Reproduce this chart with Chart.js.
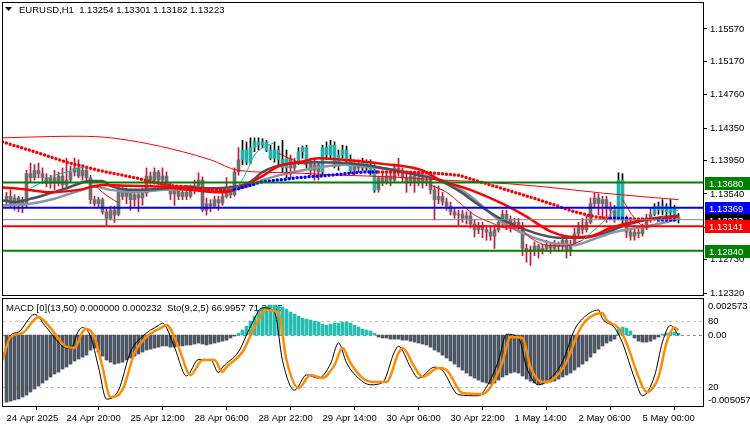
<!DOCTYPE html>
<html>
<head>
<meta charset="utf-8">
<script src="https://cdn.jsdelivr.net/npm/chart.js@4.4.1/dist/chart.umd.min.js"></script>
<style>
html, body { margin: 0; padding: 0; background: #fff; }
#wrap { position: relative; width: 750px; height: 430px; }
#top { position: absolute; left: 0; top: 0; width: 750px; height: 297px; }
#bot { position: absolute; left: 0; top: 297px; width: 750px; height: 133px; }
</style>
</head>
<body>
<div id="wrap">
  <canvas id="top" width="750" height="297"></canvas>
  <canvas id="bot" width="750" height="133"></canvas>
</div>
<script>
// EURUSD H1 candles, bar 0 = 24 Apr 05:00
var open = [
1.1347,1.1351,1.1342,1.1349,1.1340,1.1343,1.1379,1.1374,1.1383,1.1379,
1.1374,1.1367,1.1374,1.1367,1.1376,1.1365,1.1371,1.1381,1.1386,1.1376,
1.1383,1.1374,1.1347,1.1342,1.1347,1.1332,1.1324,1.1334,1.1329,1.1361,
1.1351,1.1356,1.1347,1.1353,1.1349,1.1355,1.1376,1.1371,1.1381,1.1371,
1.1376,1.1364,1.1354,1.1359,1.1351,1.1356,1.1351,1.1359,1.1364,1.1371,
1.1334,1.1342,1.1339,1.1347,1.1343,1.1351,1.1359,1.1353,1.1381,1.1396,
1.1408,1.1393,1.1411,1.1418,1.1414,1.1418,1.1408,1.1398,1.1408,1.1396,
1.1386,1.1398,1.1386,1.1393,1.1406,1.1411,1.1393,1.1383,1.1390,1.1381,
1.1411,1.1402,1.1414,1.1393,1.1402,1.1408,1.1396,1.1383,1.1391,1.1386,
1.1393,1.1388,1.1383,1.1359,1.1374,1.1369,1.1376,1.1371,1.1386,1.1381,
1.1374,1.1369,1.1376,1.1369,1.1374,1.1369,1.1371,1.1359,1.1347,1.1351,
1.1344,1.1339,1.1332,1.1328,1.1329,1.1324,1.1327,1.1317,1.1310,1.1315,
1.1310,1.1307,1.1302,1.1310,1.1319,1.1329,1.1322,1.1317,1.1319,1.1315,
1.1287,1.1283,1.1285,1.1290,1.1285,1.1287,1.1291,1.1287,1.1292,1.1289,
1.1297,1.1285,1.1292,1.1305,1.1315,1.1310,1.1319,1.1342,1.1349,1.1342,
1.1347,1.1337,1.1334,1.1324,1.1371,1.1322,1.1307,1.1302,1.1307,1.1305,
1.1312,1.1324,1.1329,1.1339,1.1334,1.1339,1.1332,1.1337,1.13254
];
var high = [
1.1356,1.1359,1.1353,1.1351,1.1350,1.1383,1.1392,1.1390,1.1392,1.1386,
1.1379,1.1377,1.1383,1.1381,1.1386,1.1398,1.1388,1.1398,1.1396,1.1390,
1.1388,1.1377,1.1351,1.1350,1.1349,1.1337,1.1339,1.1339,1.1365,1.1364,
1.1361,1.1360,1.1359,1.1359,1.1361,1.1386,1.1381,1.1386,1.1383,1.1386,
1.1381,1.1367,1.1364,1.1364,1.1361,1.1364,1.1365,1.1371,1.1380,1.1375,
1.1349,1.1347,1.1351,1.1351,1.1359,1.1374,1.1364,1.1386,1.1411,1.1420,
1.1418,1.1423,1.1423,1.1423,1.1422,1.1420,1.1414,1.1418,1.1413,1.1420,
1.1408,1.1402,1.1398,1.1411,1.1413,1.1414,1.1398,1.1396,1.1393,1.1414,
1.1418,1.1420,1.1418,1.1408,1.1414,1.1413,1.1402,1.1396,1.1396,1.1398,
1.1396,1.1396,1.1390,1.1376,1.1379,1.1381,1.1381,1.1391,1.1398,1.1386,
1.1379,1.1381,1.1381,1.1379,1.1376,1.1376,1.1376,1.1364,1.1364,1.1356,
1.1349,1.1344,1.1337,1.1334,1.1334,1.1332,1.1332,1.1322,1.1319,1.1319,
1.1315,1.1315,1.1315,1.1324,1.1334,1.1334,1.1327,1.1324,1.1324,1.1319,
1.1292,1.1290,1.1295,1.1292,1.1292,1.1297,1.1294,1.1297,1.1295,1.1302,
1.1300,1.1297,1.1312,1.1319,1.1324,1.1327,1.1349,1.1355,1.1354,1.1351,
1.1351,1.1344,1.1340,1.1380,1.1379,1.1327,1.1312,1.1315,1.1312,1.1317,
1.1329,1.1337,1.1342,1.1344,1.1347,1.1342,1.1347,1.1340,1.13301
];
var low = [
1.1340,1.1337,1.1334,1.1332,1.1331,1.1338,1.1369,1.1371,1.1374,1.1367,
1.1363,1.1361,1.1359,1.1364,1.1359,1.1363,1.1369,1.1376,1.1374,1.1371,
1.1369,1.1342,1.1339,1.1338,1.1329,1.1316,1.1322,1.1319,1.1327,1.1347,
1.1342,1.1334,1.1339,1.1332,1.1340,1.1351,1.1366,1.1366,1.1365,1.1364,
1.1359,1.1347,1.1340,1.1347,1.1347,1.1347,1.1349,1.1354,1.1359,1.1332,
1.1328,1.1332,1.1337,1.1334,1.1340,1.1349,1.1349,1.1351,1.1377,1.1390,
1.1390,1.1391,1.1406,1.1408,1.1411,1.1406,1.1396,1.1393,1.1390,1.1381,
1.1374,1.1374,1.1381,1.1390,1.1398,1.1386,1.1377,1.1371,1.1371,1.1377,
1.1396,1.1398,1.1386,1.1383,1.1398,1.1390,1.1380,1.1377,1.1381,1.1383,
1.1383,1.1377,1.1356,1.1356,1.1364,1.1366,1.1364,1.1369,1.1376,1.1369,
1.1356,1.1364,1.1356,1.1364,1.1361,1.1364,1.1354,1.1322,1.1342,1.1340,
1.1334,1.1328,1.1324,1.1316,1.1319,1.1317,1.1312,1.1301,1.1305,1.1300,
1.1297,1.1297,1.1287,1.1307,1.1315,1.1310,1.1307,1.1310,1.1307,1.1278,
1.1270,1.1266,1.1278,1.1275,1.1280,1.1283,1.1281,1.1285,1.1283,1.1285,
1.1275,1.1278,1.1290,1.1300,1.1305,1.1307,1.1317,1.1337,1.1328,1.1324,
1.1319,1.1322,1.1319,1.1322,1.1317,1.1300,1.1297,1.1297,1.1300,1.1302,
1.1310,1.1319,1.1327,1.1329,1.1328,1.1327,1.1324,1.1322,1.13182
];
var close = [
1.1351,1.1342,1.1349,1.1340,1.1347,1.1379,1.1374,1.1383,1.1379,1.1374,
1.1367,1.1374,1.1367,1.1376,1.1365,1.1371,1.1381,1.1386,1.1376,1.1383,
1.1374,1.1347,1.1342,1.1347,1.1332,1.1324,1.1334,1.1328,1.1361,1.1351,
1.1356,1.1347,1.1353,1.1349,1.1355,1.1376,1.1371,1.1381,1.1371,1.1376,
1.1364,1.1354,1.1359,1.1351,1.1356,1.1351,1.1359,1.1364,1.1371,1.1334,
1.1342,1.1339,1.1347,1.1343,1.1351,1.1359,1.1353,1.1381,1.1396,1.1408,
1.1393,1.1411,1.1418,1.1414,1.1418,1.1408,1.1398,1.1408,1.1396,1.1386,
1.1398,1.1386,1.1393,1.1406,1.1411,1.1393,1.1383,1.1390,1.1381,1.1411,
1.1402,1.1414,1.1393,1.1402,1.1408,1.1396,1.1383,1.1391,1.1386,1.1393,
1.1388,1.1383,1.1359,1.1374,1.1369,1.1376,1.1371,1.1386,1.1381,1.1374,
1.1369,1.1376,1.1369,1.1374,1.1369,1.1371,1.1359,1.1347,1.1351,1.1344,
1.1339,1.1332,1.1328,1.1329,1.1324,1.1327,1.1317,1.1310,1.1315,1.1310,
1.1307,1.1302,1.1310,1.1319,1.1329,1.1322,1.1317,1.1319,1.1315,1.1287,
1.1283,1.1285,1.1290,1.1285,1.1287,1.1291,1.1287,1.1292,1.1289,1.1297,
1.1285,1.1292,1.1305,1.1315,1.1310,1.1319,1.1342,1.1349,1.1342,1.1347,
1.1337,1.1334,1.1324,1.1371,1.1322,1.1307,1.1302,1.1307,1.1305,1.1312,
1.1324,1.1329,1.1339,1.1334,1.1339,1.1332,1.1337,1.1329,1.13223
];
// bars painted teal (black wicks) on the chart
var tealBars = [59,60,61,62,63,64,65,66,67,68,69,70,73,74,75,79,80,81,82,83,84,85,86,89,90,91,92,153,154,162,163,164,165,166,167,168];

// moving averages, read at sample bars
var slowIdx = [-1,6,16,24,33,44,51,58,71,84,96,109,118,134,149,168];
var slowVal = [1.1423,1.1424,1.1425,1.1424,1.1418,1.1406,1.1396,1.1383,1.1380,1.1377,1.1375,1.1371,1.1369,1.1363,1.1355,1.1347];
var midIdx = [-1,4,11,18,24,31,38,46,54,58,64,68,74,78,84,94,104,108,116,124,130,136,142,146,151,156,161,168];
var midVal = [1.1362,1.1360,1.1356,1.1359,1.1365,1.1364,1.1363,1.1359,1.1356,1.1361,1.1376,1.1388,1.1394,1.1398,1.1396,1.1391,1.1383,1.1372,1.1359,1.1342,1.1326,1.1308,1.1301,1.1302,1.1312,1.1319,1.1323,1.1326];
var grayIdx = [-1,2,6,11,15,21,24,26,32,40,45,50,57,61,64,69,77,85,94,103,108,114,117,124,132,138,144,150,155,162,168];
var grayVal = [1.1346,1.1344,1.1348,1.1355,1.1361,1.1370,1.1370,1.1364,1.1359,1.1361,1.1363,1.1361,1.1363,1.1369,1.1381,1.1390,1.1393,1.1392,1.1386,1.1377,1.1371,1.1355,1.1344,1.1322,1.1306,1.1300,1.1300,1.1307,1.1316,1.1324,1.1327];
var slateIdx = [-1,6,12,15,19,22,26,32,40,49,57,61,64,71,77,85,91,99,106,114,124,132,138,142,146,152,155,162,167,168];
var slateVal = [1.1340,1.1342,1.1348,1.1353,1.1359,1.1363,1.1359,1.1356,1.1359,1.1359,1.1360,1.1364,1.1371,1.1380,1.1386,1.1390,1.1387,1.1382,1.1375,1.1358,1.1319,1.1300,1.1292,1.1291,1.1297,1.1307,1.1310,1.1316,1.1322,1.1324];
var upIdx = [6,9,11,15,18,20,21,57,60,62,65,67,68,144,149,153,154,162,166,168];
var upVal = [1.1361,1.1369,1.1375,1.1381,1.1386,1.1387,null,1.1356,1.1381,1.1402,1.1413,1.1417,null,1.1297,1.1319,1.1340,null,1.1316,1.1332,1.1334];
var dnIdx = [22,24,26,28,29,68,73,75,76,106,110,114,117,121,125,128,131,135,140,144,145,154,157,160,162];
var dnVal = [1.1365,1.1356,1.1349,1.1343,null,1.1404,1.1393,1.1390,null,1.1365,1.1356,1.1340,1.1328,1.1319,1.1312,1.1312,1.1300,1.1291,1.1290,1.1297,null,1.1347,1.1324,1.1313,1.1315];
var dotIdx = [-1,7,15,24,32,40,49,56,57,61,64,73,81,89,92,93,98,106,113,117,125,133,142,147,150,151,155,156,162,163,167,168];
var dotVal = [1.1418,1.1406,1.1393,1.1382,1.1374,1.1365,1.1360,1.1358,1.1359,1.1365,1.1369,1.1374,1.1377,1.1381,1.1381,1.1381,1.1381,1.1380,1.1377,1.1371,1.1359,1.1347,1.1332,1.1326,1.1324,1.1324,1.1324,1.1323,1.1323,1.1322,1.1322,1.1322];
var dotBlue = [0,0,0,0,0,0,0,0,1,1,1,1,1,1,1,0,0,0,0,0,0,0,0,0,0,1,1,0,0,1,1,0];

var supports = [1.13680, 1.12840];
var resBlue = 1.13369;
var resRed = 1.13141;
var lastPrice = 1.13223;
var priceTicks = [1.15570,1.15170,1.14760,1.14350,1.13950,1.13540,1.13130,1.12730,1.12320];

// lower window
var macdHist = [
-0.00478,-0.00471,-0.00463,-0.00456,-0.00442,-0.00428,-0.00406,-0.00385,-0.00364,-0.00342,
-0.00321,-0.00299,-0.00278,-0.00264,-0.00242,-0.00228,-0.00207,-0.00185,-0.00171,-0.00157,
-0.00143,-0.00107,-0.00093,-0.00121,-0.00150,-0.00178,-0.00193,-0.00207,-0.00200,-0.00193,
-0.00178,-0.00164,-0.00150,-0.00135,-0.00121,-0.00107,-0.00100,-0.00093,-0.00086,-0.00078,
-0.00078,-0.00086,-0.00086,-0.00078,-0.00078,-0.00071,-0.00071,-0.00064,-0.00057,-0.00064,
-0.00071,-0.00064,-0.00057,-0.00050,-0.00043,-0.00036,-0.00021,-0.00007,0.00014,0.00036,
0.00064,0.00100,0.00135,0.00171,0.00193,0.00207,0.00214,0.00214,0.00207,0.00200,
0.00185,0.00164,0.00150,0.00135,0.00121,0.00114,0.00107,0.00100,0.00093,0.00078,
0.00071,0.00078,0.00086,0.00086,0.00093,0.00093,0.00086,0.00071,0.00057,0.00043,
0.00036,0.00029,0.00014,-0.00014,-0.00021,-0.00021,-0.00029,-0.00029,-0.00029,-0.00036,
-0.00036,-0.00043,-0.00050,-0.00057,-0.00064,-0.00071,-0.00086,-0.00107,-0.00121,-0.00143,
-0.00164,-0.00185,-0.00207,-0.00228,-0.00250,-0.00271,-0.00292,-0.00307,-0.00321,-0.00335,
-0.00342,-0.00349,-0.00342,-0.00321,-0.00299,-0.00285,-0.00271,-0.00264,-0.00271,-0.00292,
-0.00314,-0.00328,-0.00342,-0.00349,-0.00349,-0.00342,-0.00335,-0.00328,-0.00314,-0.00299,
-0.00285,-0.00271,-0.00250,-0.00228,-0.00207,-0.00185,-0.00157,-0.00128,-0.00100,-0.00078,
-0.00057,-0.00043,-0.00029,0.00043,0.00057,0.00050,0.00029,-0.00021,-0.00043,-0.00050,
-0.00050,-0.00043,-0.00029,-0.00014,0.00007,0.00014,0.00021,0.00021,0.00014
];
var stoMainIdx = [-1,1,3,7,10,14,16,18,19,21,23,25,28,31,34,38,39,42,45,48,51,53,54,58,61,64,67,69,72,75,78,81,83,85,88,91,94,97,98,101,103,107,109,113,118,120,123,125,128,130,133,136,139,142,144,148,149,152,154,157,159,162,164,166,168];
var stoMainVal = [47,67,70,86,74,57,55,71,74,66,38,9,17,52,66,76,78,56,30,45,45,33,38,52,75,92,88,44,17,31,28,41,60,42,28,22,24,52,57,38,28,38,35,13,12,20,44,68,65,38,22,28,43,72,82,90,82,74,60,28,12,30,61,76,67];
var stoSigIdx = [-1,1,4,8,11,15,17,19,20,22,24,26,29,32,35,39,40,43,46,49,52,54,55,59,62,65,68,70,73,76,79,82,84,86,89,92,95,98,99,102,104,108,110,114,119,121,124,126,129,131,134,137,140,143,145,149,150,153,155,158,160,163,165,167,168];
var stoSigVal = [44.5,65.5,69.1,83.6,73.6,56.4,55.5,70.0,72.7,65.5,38.2,10.9,17.3,50.9,65.5,74.5,76.4,56.4,30.9,44.5,44.5,33.6,38.2,51.8,74.5,90.0,87.3,44.5,19.1,30.9,28.2,40.0,55.5,41.8,28.2,24.5,24.5,50.9,55.5,38.2,29.1,37.3,35.5,14.5,13.6,20.0,42.7,65.5,64.5,38.2,24.5,28.2,42.7,70.0,80.9,87.3,80.9,73.6,60.0,29.1,15.5,29.1,60.0,74.0,71.4];

var tickIdx = [0,15,31,47,63,79,95,111,127,143,159];
var tickLabels = ['24 Apr 2025','24 Apr 20:00','25 Apr 12:00','28 Apr 06:00','28 Apr 22:00','29 Apr 14:00','30 Apr 06:00','30 Apr 22:00','1 May 14:00','2 May 06:00','5 May 00:00'];

var titleTop = 'EURUSD,H1  1.13254 1.13301 1.13182 1.13223';
var titleBot = 'MACD [0](13,50) 0.000000 0.000232  Sto(9,2,5) 66.9957 71.3835';

var FAM = '"Liberation Sans", Arial, sans-serif';
var FS = 9.5;
var xMin = -0.875, xMax = 174.125;

function pts(idx, vals) {
  return idx.map(function (x, k) { return { x: x, y: vals[k] }; });
}
function flat(v) {
  return [{ x: xMin, y: v }, { x: xMax, y: v }];
}
function isTeal(i) { return tealBars.indexOf(i) >= 0; }

function lineDs(data, color, width, order) {
  return {
    type: 'line', data: data, borderColor: color, borderWidth: width,
    pointRadius: 0, cubicInterpolationMode: 'monotone', order: order, clip: 0
  };
}

var topDeco = {
  id: 'topDeco',
  afterDatasetsDraw: function (chart) {
    var ctx = chart.ctx, a = chart.chartArea, y = chart.scales.y;
    ctx.save();
    ctx.strokeStyle = '#000';
    ctx.lineWidth = 1;
    ctx.strokeRect(a.left - 0.5, a.top - 0.5, a.right - a.left + 1, a.bottom - a.top + 1);
    ctx.fillStyle = '#000';
    ctx.beginPath();
    ctx.moveTo(5, 7); ctx.lineTo(12, 7); ctx.lineTo(8.5, 11); ctx.closePath();
    ctx.fill();
    ctx.font = FS + 'px ' + FAM;
    ctx.textBaseline = 'middle';
    ctx.textAlign = 'left';
    ctx.fillText(titleTop, 19, 10);
    var tags = [[supports[0], '#008000'], [resBlue, '#0000FF'], [lastPrice, '#000000'], [resRed, '#FF0000'], [supports[1], '#008000']];
    tags.forEach(function (t) {
      var py = Math.round(y.getPixelForValue(t[0]));
      ctx.fillStyle = t[1];
      ctx.fillRect(a.right + 2, py - 6, 750 - a.right - 2, 13);
      ctx.fillStyle = '#fff';
      ctx.fillText(t[0].toFixed(5), a.right + 6, py + 1);
    });
    ctx.restore();
  }
};

var botDeco = {
  id: 'botDeco',
  beforeDatasetsDraw: function (chart) {
    var ctx = chart.ctx, a = chart.chartArea, m = chart.scales.m, s = chart.scales.s;
    ctx.save();
    ctx.lineWidth = 1;
    ctx.setLineDash([3, 3]);
    [[s.getPixelForValue(80), '#C4C4C4'], [s.getPixelForValue(20), '#C4C4C4'], [m.getPixelForValue(0), '#8C8C8C']].forEach(function (l) {
      var py = Math.round(l[0]) + 0.5;
      ctx.strokeStyle = l[1];
      ctx.beginPath(); ctx.moveTo(a.left, py); ctx.lineTo(a.right, py); ctx.stroke();
    });
    ctx.setLineDash([]);
    ctx.fillStyle = '#000';
    ctx.font = FS + 'px ' + FAM;
    ctx.textBaseline = 'middle';
    ctx.fillText(titleBot, 6, a.top + 9);
    ctx.restore();
  },
  afterDatasetsDraw: function (chart) {
    var ctx = chart.ctx, a = chart.chartArea, m = chart.scales.m, s = chart.scales.s;
    ctx.save();
    ctx.strokeStyle = '#000';
    ctx.lineWidth = 1;
    ctx.strokeRect(a.left - 0.5, a.top - 0.5, a.right - a.left + 1, a.bottom - a.top + 1);
    ctx.fillStyle = '#000';
    ctx.font = FS + 'px ' + FAM;
    ctx.textAlign = 'left';
    var lx = a.right + 5;
    ctx.textBaseline = 'top';
    ctx.fillText('0.002573', lx, a.top + 3);
    ctx.textBaseline = 'middle';
    ctx.fillText('80', lx, s.getPixelForValue(80));
    ctx.fillText('0.00', lx, m.getPixelForValue(0));
    ctx.fillText('20', lx, s.getPixelForValue(20));
    ctx.textBaseline = 'bottom';
    ctx.fillText('-0.005057', lx, a.bottom - 1);
    ctx.restore();
  }
};

var idx = close.map(function (c, i) { return i; });

new Chart(document.getElementById('top').getContext('2d'), {
  type: 'bar',
  data: {
    datasets: [
      lineDs(flat(supports[0]), '#008000', 2, 0),
      lineDs(flat(supports[1]), '#008000', 2, 0),
      lineDs(flat(resBlue), '#0000FF', 2, 0),
      lineDs(flat(resRed), '#FF0000', 2, 0),
      lineDs(flat(lastPrice), '#778899', 1, 0),
      lineDs(pts(upIdx, upVal), '#20B2AA', 1, 1),
      lineDs(pts(dnIdx, dnVal), '#FF0000', 1, 1),
      {
        type: 'line', data: pts(dotIdx, dotVal), borderColor: '#FF0000', borderWidth: 3.5,
        borderDash: [0, 4], borderCapStyle: 'round', pointRadius: 0, order: 2, clip: 0,
        segment: { borderColor: function (c) { return dotBlue[c.p0DataIndex] ? '#0000FF' : '#FF0000'; } }
      },
      lineDs(pts(slowIdx, slowVal), '#FF0000', 1, 3),
      lineDs(pts(midIdx, midVal), '#FF0000', 2.5, 4),
      lineDs(pts(grayIdx, grayVal), '#4B515C', 2.5, 5),
      lineDs(pts(slateIdx, slateVal), '#8795A5', 2.5, 6),
      {
        label: 'body', data: idx.map(function (i) { return { x: i, y: [open[i], close[i]] }; }),
        backgroundColor: idx.map(function (i) { return isTeal(i) ? '#20B2AA' : '#6E6E6E'; }),
        barThickness: 3, minBarLength: 1, grouped: false, order: 10, clip: 0
      },
      {
        label: 'wick', data: idx.map(function (i) { return { x: i, y: [low[i], high[i]] }; }),
        backgroundColor: idx.map(function (i) { return isTeal(i) ? '#000000' : '#C8143C'; }),
        barThickness: 1, grouped: false, order: 11, clip: 0
      }
    ]
  },
  options: {
    responsive: false, animation: false, devicePixelRatio: 1, events: [],
    layout: { padding: { left: 3, top: 3, right: 0, bottom: 2 } },
    plugins: { legend: { display: false }, tooltip: { enabled: false } },
    scales: {
      x: { type: 'linear', display: false, min: xMin, max: xMax, offset: false },
      y: {
        position: 'right', min: 1.12296, max: 1.15890,
        afterBuildTicks: function (ax) { ax.ticks = priceTicks.map(function (v) { return { value: v }; }); },
        afterFit: function (ax) { ax.width = 47; ax.paddingTop = 0; ax.paddingBottom = 0; },
        ticks: {
          autoSkip: false, color: '#000', padding: 3,
          font: { family: FAM, size: FS },
          callback: function (v) { return v.toFixed(5); }
        },
        grid: { drawOnChartArea: false, drawTicks: true, tickLength: 4, color: '#000' },
        border: { display: false }
      }
    }
  },
  plugins: [topDeco]
});

new Chart(document.getElementById('bot').getContext('2d'), {
  type: 'bar',
  data: {
    datasets: [
      {
        data: idx.map(function (i) { return { x: i, y: macdHist[i] }; }), yAxisID: 'm',
        backgroundColor: macdHist.map(function (v) { return v >= 0 ? '#28BDB3' : '#4E5663'; }),
        barThickness: 3, grouped: false, order: 3, clip: 0
      },
      {
        type: 'line', data: pts(stoMainIdx, stoMainVal), yAxisID: 's', borderColor: '#000',
        borderWidth: 1, pointRadius: 0, cubicInterpolationMode: 'monotone', order: 2, clip: 0
      },
      {
        type: 'line', data: pts(stoSigIdx, stoSigVal), yAxisID: 's', borderColor: '#FF8C00',
        borderWidth: 2.5, pointRadius: 0, cubicInterpolationMode: 'monotone', order: 1, clip: 0
      }
    ]
  },
  options: {
    responsive: false, animation: false, devicePixelRatio: 1, events: [],
    layout: { padding: { left: 3, top: 2, right: 47, bottom: 0 } },
    plugins: { legend: { display: false }, tooltip: { enabled: false } },
    scales: {
      x: {
        type: 'linear', min: xMin, max: xMax, offset: false,
        afterBuildTicks: function (ax) { ax.ticks = tickIdx.map(function (v) { return { value: v }; }); },
        afterFit: function (ax) { ax.height = 24; ax.paddingLeft = 0; ax.paddingRight = 0; },
        ticks: {
          autoSkip: false, maxRotation: 0, align: 'start', padding: 3, color: '#000',
          font: { family: FAM, size: FS },
          callback: function (v) { return tickLabels[tickIdx.indexOf(v)]; }
        },
        grid: { drawOnChartArea: false, drawTicks: true, tickLength: 4, color: '#000' },
        border: { display: false }
      },
      m: { position: 'right', display: false, min: -0.005057, max: 0.002573 },
      s: { position: 'right', display: false, min: 2.7, max: 100 }
    }
  },
  plugins: [botDeco]
});
</script>
</body>
</html>
